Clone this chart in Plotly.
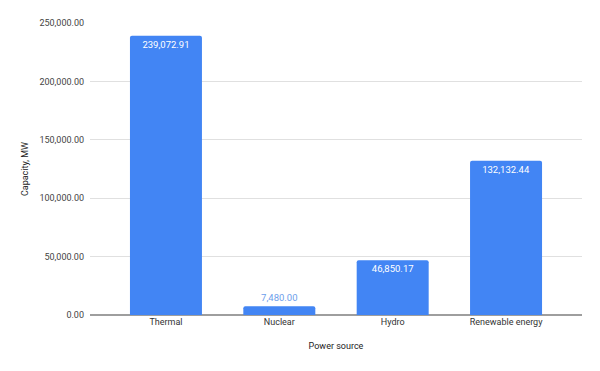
import plotly.graph_objects as go

categories = ["Thermal", "Nuclear", "Hydro", "Renewable energy"]
capacity_mw = [239072.91, 7480.00, 46850.17, 132132.44]
y_ticks = [0, 50000, 100000, 150000, 200000, 250000]

labels = [f"{v:,.2f}" for v in capacity_mw]
positions = ["inside" if v > 20000 else "outside" for v in capacity_mw]

fig = go.Figure(go.Bar(
    x=categories, y=capacity_mw,
    marker=dict(color="#4285F4", line=dict(width=0)),
    text=labels, textposition=positions, insidetextanchor="end",
    insidetextfont=dict(color="white", size=9.5, family="Roboto"),
    outsidetextfont=dict(color="#6d9eeb", size=9.5, family="Roboto"),
    cliponaxis=False, width=0.635,
))

fig.update_layout(
    width=600, height=371,
    margin=dict(l=90, r=18, t=23, b=56),
    paper_bgcolor="white", plot_bgcolor="white",
    font=dict(family="Roboto", size=9, color="#444"),
    showlegend=False, barcornerradius=2,
    uniformtext=dict(minsize=8, mode="show"),
)
fig.update_xaxes(
    range=[-0.67, 3.67], showgrid=False, showline=False, ticks="",
    tickfont=dict(size=9, color="#333"),
    title=dict(text="Power source", font=dict(size=9, color="#222"), standoff=16),
)
fig.update_yaxes(
    range=[0, 250000], tickvals=y_ticks,
    ticktext=[f"{v:,.2f}" for v in y_ticks],
    showgrid=True, gridcolor="#e0e0e0", gridwidth=1,
    zeroline=True, zerolinecolor="#9e9e9e", zerolinewidth=1.5,
    showline=False, ticks="", ticklabelstandoff=5,
    tickfont=dict(size=9, color="#444"),
    title=dict(text="Capacity, MW", font=dict(size=9, color="#222"), standoff=9),
)

fig.write_html("out.html")
